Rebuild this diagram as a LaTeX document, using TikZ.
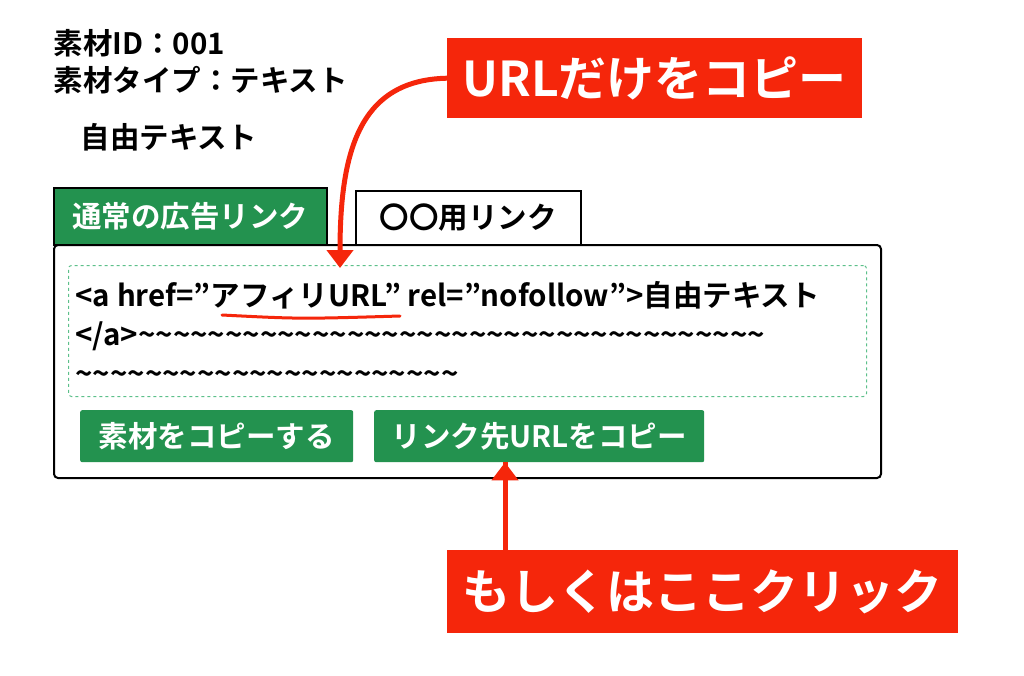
\documentclass[tikz,border=0pt]{standalone}
\usepackage{fontspec}
\setmainfont{Noto Sans CJK JP}[BoldFont={Noto Sans CJK JP Bold}]
\usetikzlibrary{arrows.meta}
\definecolor{btngreen}{HTML}{23924F}
\definecolor{notered}{HTML}{F5260B}
\definecolor{dashgreen}{HTML}{5CC08A}
\newcommand{\tld}[1]{\foreach \i in {1,...,#1}{\textasciitilde}}
\begin{document}
\begin{tikzpicture}[x=1pt,y=-1pt,
    every node/.style={font=\bfseries\fontsize{29.5}{32}\selectfont},
    btn/.style={fill=btngreen,text=white,rounded corners=2pt,inner sep=0pt},
    callout/.style={fill=notered,text=white,inner sep=0pt,font=\bfseries\fontsize{48}{52}\selectfont},
    redarrow/.style={draw=notered,line width=5pt,-{Triangle[length=18pt,width=26pt]}}]
    \useasboundingbox (0,0) rectangle (1024,675);
    % header texts
    \node[anchor=west] (id) at (50,43) {素材ID：001};
    \node[anchor=west] (type) at (50,80) {素材タイプ：テキスト};
    \node[anchor=west] (free) at (77,137) {自由テキスト};
    % tabs and panel
    \node[btn,rounded corners=0pt,draw=black,line width=1.5pt,minimum width=273pt,minimum height=57pt,anchor=north west] (tabA) at (53,187) {通常の広告リンク};
    \node[draw=black,line width=1.5pt,fill=white,minimum width=225pt,minimum height=54pt,anchor=north west] (tabB) at (355,190) {〇〇用リンク};
    \node[draw=black,line width=2pt,rounded corners=4pt,fill=white,minimum width=827pt,minimum height=233pt,anchor=north west] (panel) at (53,244) {};
    \node[draw=dashgreen,dashed,line width=1pt,rounded corners=3pt,minimum width=798pt,minimum height=131pt,anchor=north west] (code) at (68,265) {};
    \node[anchor=west] (line1) at (72,295) {<a href=”アフィリURL” rel=”nofollow”>自由テキスト};
    \node[anchor=west] (line2) at (72,336) {</a>\tld{36}};
    \node[anchor=west] (line3) at (72,378) {\tld{22}};
    \draw[notered,line width=3pt,line cap=round] (222,315) .. controls (300,319) .. (400,316);
    % buttons
    \node[btn,minimum width=273pt,minimum height=52pt,anchor=north west] (copyA) at (80,410) {素材をコピーする};
    \node[btn,minimum width=330pt,minimum height=52pt,anchor=north west] (copyB) at (374,410) {リンク先URLをコピー};
    % callouts
    \node[callout,minimum width=415pt,minimum height=80pt,anchor=north west] (urlonly) at (447,38) {URLだけをコピー};
    \node[callout,minimum width=511pt,minimum height=83pt,anchor=north west] (orclick) at (447,550) {もしくはここクリック};
    \coordinate (tipA) at (340,268);
    \draw[redarrow] (urlonly.west) .. controls (360,80) and (340,150) .. (tipA);
    \draw[redarrow] (orclick.north west) ++(58,0) coordinate (startB) -- (copyB.south -| startB) ++(0,0);
\end{tikzpicture}
\end{document}
